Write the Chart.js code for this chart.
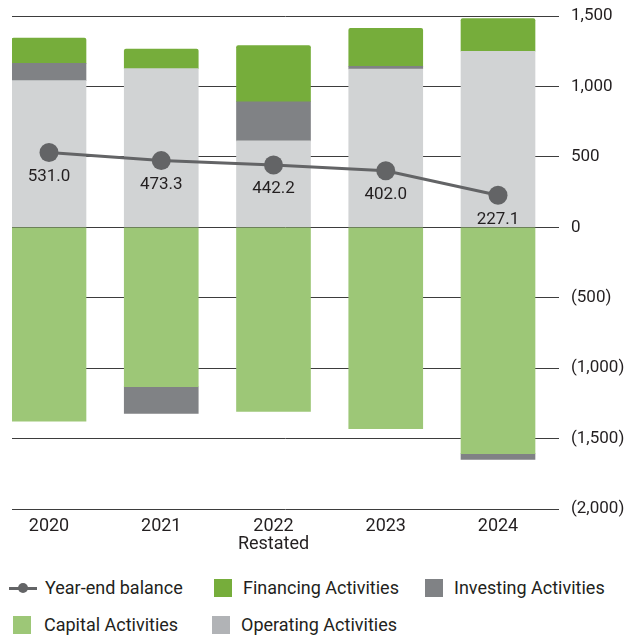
<!DOCTYPE html>
<html>
<head>
<meta charset="utf-8">
<script src="https://cdn.jsdelivr.net/npm/chart.js@4.4.1/dist/chart.umd.min.js"></script>
<style>
  html, body { margin: 0; padding: 0; background: #ffffff; }
  #wrap { position: relative; width: 639px; height: 636px; overflow: hidden; font-family: Roboto, "Open Sans", sans-serif; color: #231f20; }
  #c { position: absolute; left: 0; top: 0; }
  .lg { position: absolute; font-size: 18px; line-height: 20px; white-space: nowrap; }
  .sw { position: absolute; width: 18px; height: 18px; }
</style>
</head>
<body>
<div id="wrap">
  <canvas id="c" width="639" height="560"></canvas>
  <div id="legend"></div>
</div>
<script>
// ---- data ----
const categories = ["2020", "2021", "2022", "2023", "2024"];
const categoryLabels = [["2020"], ["2021"], ["2022", "Restated"], ["2023"], ["2024"]];
const operatingActivities = [1041, 1126, 614, 1124, 1250];
const investingActivities = [123, -190, 277, 19, -41];
const financingActivities = [180, 140, 399, 270, 231];
const capitalActivities = [-1377, -1132, -1307, -1430, -1607];
const yearEndBalance = [531.0, 473.3, 442.2, 402.0, 227.1];
const yTickValues = [1500, 1000, 500, 0, -500, -1000, -1500, -2000];

const COLORS = {
  operating: "#d1d3d4",
  investing: "#808285",
  financing: "#76ad3b",
  capital: "#9dc777",
  line: "#636466",
  text: "#231f20"
};

const toPoints = (arr) => arr.map((v, i) => ({ x: i, y: v }));

function fmtTick(v) {
  const s = Math.abs(v).toLocaleString("en-US");
  return v < 0 ? "(" + s + ")" : s;
}

const labelPlugin = {
  id: "pointLabels",
  afterDatasetsDraw(chart) {
    const meta = chart.getDatasetMeta(0);
    const ctx = chart.ctx;
    ctx.save();
    ctx.font = "17px Roboto, 'Open Sans', sans-serif";
    ctx.fillStyle = COLORS.text;
    ctx.textAlign = "center";
    ctx.textBaseline = "middle";
    meta.data.forEach((pt, i) => {
      ctx.fillText(yearEndBalance[i].toFixed(1), pt.x, pt.y + 24);
    });
    ctx.restore();
  }
};

const barBase = { type: "bar", barThickness: 74, borderWidth: 0, order: 1, stack: "cash" };

const chart = new Chart(document.getElementById("c"), {
  data: {
    datasets: [
      {
        type: "line",
        label: "Year-end balance",
        data: toPoints(yearEndBalance),
        borderColor: COLORS.line,
        backgroundColor: COLORS.line,
        borderWidth: 3,
        pointRadius: 9.5,
        pointBackgroundColor: COLORS.line,
        pointBorderWidth: 0,
        tension: 0,
        order: 0,
        stack: "line"
      },
      Object.assign({}, barBase, { label: "Operating Activities", data: toPoints(operatingActivities), backgroundColor: COLORS.operating }),
      Object.assign({}, barBase, { label: "Capital Activities", data: toPoints(capitalActivities), backgroundColor: COLORS.capital }),
      Object.assign({}, barBase, { label: "Investing Activities", data: toPoints(investingActivities), backgroundColor: COLORS.investing }),
      Object.assign({}, barBase, { label: "Financing Activities", data: toPoints(financingActivities), backgroundColor: COLORS.financing,
        borderRadius: { topLeft: 2, topRight: 2, bottomLeft: 0, bottomRight: 0 }, borderSkipped: false })
    ]
  },
  options: {
    responsive: false,
    animation: false,
    devicePixelRatio: 1,
    layout: { padding: { left: 12, top: 16, right: 0, bottom: 0 } },
    plugins: { legend: { display: false }, tooltip: { enabled: false } },
    scales: {
      x: {
        type: "linear",
        stacked: true,
        offset: false,
        min: -0.3296,
        max: 4.5434,
        grid: { display: false, drawTicks: false, offset: false },
        border: { display: false },
        afterBuildTicks(scale) { scale.ticks = categories.map((c, i) => ({ value: i })); },
        afterFit(scale) { scale.height = 51; },
        ticks: {
          padding: 8,
          color: COLORS.text,
          font: { family: "Roboto, 'Open Sans', sans-serif", size: 18, lineHeight: 1.0 },
          maxRotation: 0,
          autoSkip: false,
          callback: (v) => categoryLabels[v]
        }
      },
      y: {
        position: "right",
        stacked: true,
        min: -2000,
        max: 1500,
        afterBuildTicks(scale) { scale.ticks = yTickValues.map(v => ({ value: v })); },
        afterFit(scale) { scale.width = 80; },
        grid: { color: "#3d3d3d", lineWidth: 1, drawTicks: true, tickLength: 12, tickColor: "rgba(0,0,0,0)" },
        border: { display: false },
        ticks: {
          padding: 0,
          color: COLORS.text,
          font: { family: "Roboto, 'Open Sans', sans-serif", size: 17 },
          callback: (v) => fmtTick(v)
        }
      }
    }
  },
  plugins: [labelPlugin]
});

// ---- HTML legend ----
const legendItems = [
  { label: "Year-end balance", kind: "line", color: COLORS.line, x: 9, y: 588, tx: 45 },
  { label: "Financing Activities", kind: "box", color: COLORS.financing, x: 214, y: 588, tx: 243 },
  { label: "Investing Activities", kind: "box", color: COLORS.investing, x: 425, y: 588, tx: 454 },
  { label: "Capital Activities", kind: "box", color: COLORS.capital, x: 13, y: 625, tx: 44 },
  { label: "Operating Activities", kind: "box", color: "#b1b3b6", x: 212, y: 625, tx: 241 }
];
const lg = document.getElementById("legend");
legendItems.forEach(it => {
  if (it.kind === "line") {
    const ln = document.createElement("div");
    ln.style.cssText = `position:absolute;left:${it.x}px;top:${it.y - 1.5}px;width:28px;height:3px;background:${it.color};`;
    const dot = document.createElement("div");
    dot.style.cssText = `position:absolute;left:${it.x + 9}px;top:${it.y - 5}px;width:10px;height:10px;border-radius:50%;background:${it.color};`;
    lg.appendChild(ln); lg.appendChild(dot);
  } else {
    const sw = document.createElement("div");
    sw.className = "sw";
    sw.style.left = it.x + "px";
    sw.style.top = (it.y - 9) + "px";
    sw.style.background = it.color;
    lg.appendChild(sw);
  }
  const t = document.createElement("div");
  t.className = "lg";
  t.textContent = it.label;
  t.style.left = it.tx + "px";
  t.style.top = (it.y - 10) + "px";
  lg.appendChild(t);
});
</script>
</body>
</html>
